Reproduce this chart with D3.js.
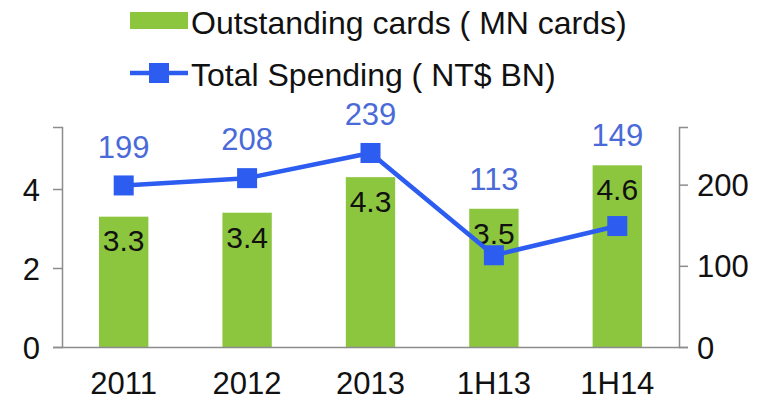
<!DOCTYPE html>
<html>
<head>
<meta charset="utf-8">
<script src="https://cdn.jsdelivr.net/npm/d3@7/dist/d3.min.js"></script>
<style>
  html, body { margin: 0; padding: 0; background: #fff; }
  svg { display: block; font-family: "Liberation Sans", Arial, sans-serif; }
</style>
</head>
<body>
<svg id="chart" width="762" height="410"></svg>
<script>
// Card market figures by period
const periods = ["2011", "2012", "2013", "1H13", "1H14"];
const outstandingCards = [3.3, 3.4, 4.3, 3.5, 4.6];   // MN cards
const totalSpending = [199, 208, 239, 113, 149];      // NT$ BN
const leftTicks = [0, 2, 4];
const rightTicks = [0, 100, 200];
const legendLabels = ["Outstanding cards ( MN cards)", "Total Spending ( NT$ BN)"];

const barColor = "#8cc63f";
const lineColor = "#2d5cf0";
const valueColor = "#4a6ad8";
const axisColor = "#8c8c8c";
const font = "Liberation Sans, Arial, sans-serif";

const svg = d3.select("#chart");
const plot = { left: 62, right: 679, top: 127, bottom: 347 };

const x = d3.scaleBand().domain(periods).range([plot.left, plot.right]).paddingInner(0.6).paddingOuter(0.3);
const yL = d3.scaleLinear().domain([0, 5.57]).range([plot.bottom, plot.top]);
const yR = d3.scaleLinear().domain([0, 271]).range([plot.bottom, plot.top]);

// Bars
svg.append("g").selectAll("rect").data(periods).join("rect")
  .attr("x", d => x(d))
  .attr("y", (d, i) => yL(outstandingCards[i]))
  .attr("width", x.bandwidth())
  .attr("height", (d, i) => yL(0) - yL(outstandingCards[i]))
  .attr("fill", barColor);

// Left axis
const axL = svg.append("g").attr("transform", `translate(${plot.left},0)`)
  .call(d3.axisLeft(yL).tickValues(leftTicks).tickSize(9).tickPadding(13).tickFormat(d3.format("d")));
axL.select(".domain").attr("stroke", axisColor).attr("stroke-width", 1.5);
axL.selectAll(".tick line").attr("stroke", axisColor).attr("stroke-width", 1.5);
axL.selectAll(".tick text").attr("font-size", 31).attr("fill", "#111").attr("font-family", font).attr("dy", "0.36em");

// Right axis
const axR = svg.append("g").attr("transform", `translate(${plot.right},0)`)
  .call(d3.axisRight(yR).tickValues(rightTicks).tickSize(9).tickPadding(9).tickFormat(d3.format("d")));
axR.select(".domain").attr("stroke", axisColor).attr("stroke-width", 1.5);
axR.selectAll(".tick line").attr("stroke", axisColor).attr("stroke-width", 1.5);
axR.selectAll(".tick text").attr("font-size", 31).attr("fill", "#111").attr("font-family", font).attr("dy", "0.36em");

// Bottom axis (baseline with category labels)
const axB = svg.append("g").attr("transform", `translate(0,${plot.bottom})`)
  .call(d3.axisBottom(x).tickSize(0).tickPadding(25));
axB.select(".domain").attr("stroke", axisColor).attr("stroke-width", 1.5);
axB.selectAll(".tick text").attr("font-size", 31).attr("fill", "#111").attr("font-family", font);

// Bar value labels
svg.append("g").selectAll("text").data(periods).join("text")
  .attr("x", d => x(d) + x.bandwidth() / 2)
  .attr("y", (d, i) => yL(outstandingCards[i]) + 24)
  .attr("dy", "0.36em")
  .attr("text-anchor", "middle")
  .attr("font-size", 30)
  .attr("fill", "#111")
  .text((d, i) => outstandingCards[i].toFixed(1));

// Spending line
const cx = d => x(d) + x.bandwidth() / 2;
const line = d3.line().x(d => cx(d)).y((d, i) => yR(totalSpending[i]));
svg.append("path").datum(periods)
  .attr("d", line)
  .attr("fill", "none")
  .attr("stroke", lineColor)
  .attr("stroke-width", 4.5);

const m = 20;
svg.append("g").selectAll("rect").data(periods).join("rect")
  .attr("x", d => cx(d) - m / 2)
  .attr("y", (d, i) => yR(totalSpending[i]) - m / 2)
  .attr("width", m).attr("height", m)
  .attr("fill", lineColor);

// Spending value labels, kept clear of the marker and the bar top
svg.append("g").selectAll("text").data(periods).join("text")
  .attr("x", cx)
  .attr("y", (d, i) => Math.min(yR(totalSpending[i]) - 39, yL(outstandingCards[i]) - 30))
  .attr("dy", "0.36em")
  .attr("text-anchor", "middle")
  .attr("font-size", 31)
  .attr("fill", valueColor)
  .text((d, i) => totalSpending[i]);

// Legend
const lg = svg.append("g");
lg.append("rect").attr("x", 130).attr("y", 12).attr("width", 58).attr("height", 17).attr("fill", barColor);
lg.append("text").attr("x", 191).attr("y", 34).attr("font-size", 32).attr("fill", "#111").text(legendLabels[0]);
lg.append("line").attr("x1", 130).attr("x2", 188).attr("y1", 73).attr("y2", 73)
  .attr("stroke", lineColor).attr("stroke-width", 4.5);
lg.append("rect").attr("x", 149).attr("y", 63).attr("width", m).attr("height", m).attr("fill", lineColor);
lg.append("text").attr("x", 191).attr("y", 86).attr("font-size", 32).attr("fill", "#111").text(legendLabels[1]);
</script>
</body>
</html>
